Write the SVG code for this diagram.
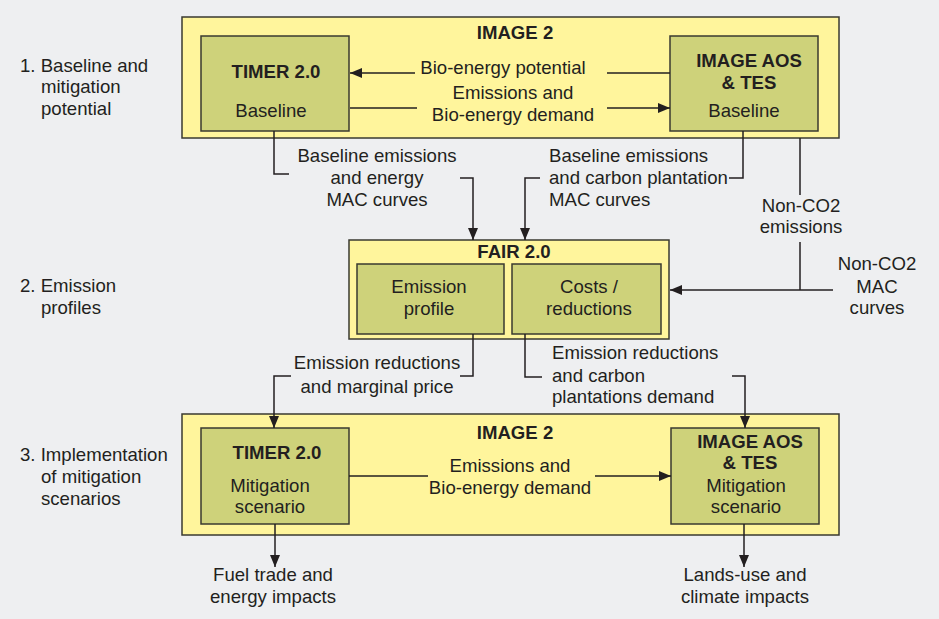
<svg xmlns="http://www.w3.org/2000/svg" width="939" height="619" viewBox="0 0 939 619">
<style>
text{font-family:"Liberation Sans",Arial,sans-serif;font-size:18.6px;fill:#231f20}
.b{font-weight:bold}
.m{text-anchor:middle}
.outer{fill:#fff59c;stroke:#3a3a30;stroke-width:1.5}
.inner{fill:#ced27a;stroke:#3a3a30;stroke-width:1.5}
.c{fill:none;stroke:#231f20;stroke-width:1.5}
</style>
<defs>
<marker id="ah" viewBox="0 0 12 10" refX="12" refY="5" markerWidth="12" markerHeight="10" markerUnits="userSpaceOnUse" orient="auto">
<path d="M0,0 L12,5 L0,10 z" fill="#231f20"/>
</marker>
</defs>
<rect width="939" height="619" fill="#eeeff1"/>
<g id="labels">
<text x="20" y="72">1. Baseline and</text>
<text x="41" y="93">mitigation</text>
<text x="41" y="115">potential</text>
<text x="20" y="292">2. Emission</text>
<text x="41" y="314">profiles</text>
<text x="20" y="461">3. Implementation</text>
<text x="41" y="483">of mitigation</text>
<text x="41" y="505">scenarios</text>
</g>
<g id="image2-top">
<rect class="outer" x="182" y="17" width="657" height="121"/>
<text class="b m" x="515" y="39">IMAGE 2</text>
</g>
<g id="timer-baseline">
<rect class="inner" x="201" y="36" width="148" height="95"/>
<text class="b m" x="276" y="78">TIMER 2.0</text>
<text class="m" x="271" y="117">Baseline</text>
</g>
<g id="aos-baseline">
<rect class="inner" x="670" y="36" width="148" height="95"/>
<text class="b m" x="749" y="67">IMAGE AOS</text>
<text class="b m" x="749" y="89">&amp; TES</text>
<text class="m" x="744" y="117">Baseline</text>
</g>
<g id="fair">
<rect class="outer" x="349" y="240" width="320" height="99"/>
<text class="b m" x="514" y="258">FAIR 2.0</text>
</g>
<g id="emission-profile">
<rect class="inner" x="357" y="264" width="147" height="70"/>
<text class="m" x="429" y="293">Emission</text>
<text class="m" x="429" y="315">profile</text>
</g>
<g id="costs">
<rect class="inner" x="512" y="264" width="149" height="70"/>
<text class="m" x="589" y="293">Costs /</text>
<text class="m" x="589" y="315">reductions</text>
</g>
<g id="image2-bottom">
<rect class="outer" x="182" y="414" width="657" height="121"/>
<text class="b m" x="515" y="439">IMAGE 2</text>
</g>
<g id="timer-mitigation">
<rect class="inner" x="201" y="428" width="148" height="96"/>
<text class="b m" x="277" y="459">TIMER 2.0</text>
<text class="m" x="270" y="492">Mitigation</text>
<text class="m" x="270" y="513">scenario</text>
</g>
<g id="aos-mitigation">
<rect class="inner" x="671" y="428" width="148" height="96"/>
<text class="b m" x="750" y="448">IMAGE AOS</text>
<text class="b m" x="750" y="469">&amp; TES</text>
<text class="m" x="746" y="492">Mitigation</text>
<text class="m" x="746" y="513">scenario</text>
</g>
<g id="connectors">
<path class="c" d="M415,73 H350" marker-end="url(#ah)"/>
<path class="c" d="M607,73 H670"/>
<path class="c" d="M350,108 H417"/>
<path class="c" d="M607,108 H670" marker-end="url(#ah)"/>
<path class="c" d="M274,131 V174 H289"/>
<path class="c" d="M460,178 H473 V240" marker-end="url(#ah)"/>
<path class="c" d="M540,178 H525 V240" marker-end="url(#ah)"/>
<path class="c" d="M743,131 V178 H729"/>
<path class="c" d="M800,138 V195"/>
<path class="c" d="M800,242 V290"/>
<path class="c" d="M833,290 H670" marker-end="url(#ah)"/>
<path class="c" d="M473,334 V376 H460"/>
<path class="c" d="M291,376 H274 V428" marker-end="url(#ah)"/>
<path class="c" d="M525,334 V377 H542"/>
<path class="c" d="M732,376 H745 V428" marker-end="url(#ah)"/>
<path class="c" d="M349,476 H428"/>
<path class="c" d="M595,476 H671" marker-end="url(#ah)"/>
<path class="c" d="M275,524 V567" marker-end="url(#ah)"/>
<path class="c" d="M744,524 V567" marker-end="url(#ah)"/>
</g>
<g id="connector-labels">
<text class="m" x="503" y="74">Bio-energy potential</text>
<text class="m" x="513" y="99">Emissions and</text>
<text class="m" x="513" y="121">Bio-energy demand</text>
<text class="m" x="377" y="162">Baseline emissions</text>
<text class="m" x="377" y="184">and energy</text>
<text class="m" x="377" y="206">MAC curves</text>
<text x="549" y="162">Baseline emissions</text>
<text x="549" y="184">and carbon plantation</text>
<text x="549" y="206">MAC curves</text>
<text class="m" x="801" y="212">Non-CO2</text>
<text class="m" x="801" y="233">emissions</text>
<text class="m" x="877" y="270">Non-CO2</text>
<text class="m" x="877" y="293">MAC</text>
<text class="m" x="877" y="314">curves</text>
<text class="m" x="377" y="369">Emission reductions</text>
<text class="m" x="377" y="393">and marginal price</text>
<text x="552" y="359">Emission reductions</text>
<text x="552" y="382">and carbon</text>
<text x="552" y="403">plantations demand</text>
<text class="m" x="510" y="472">Emissions and</text>
<text class="m" x="510" y="494">Bio-energy demand</text>
<text class="m" x="273" y="581">Fuel trade and</text>
<text class="m" x="273" y="603">energy impacts</text>
<text class="m" x="745" y="581">Lands-use and</text>
<text class="m" x="745" y="603">climate impacts</text>
</g>
</svg>
